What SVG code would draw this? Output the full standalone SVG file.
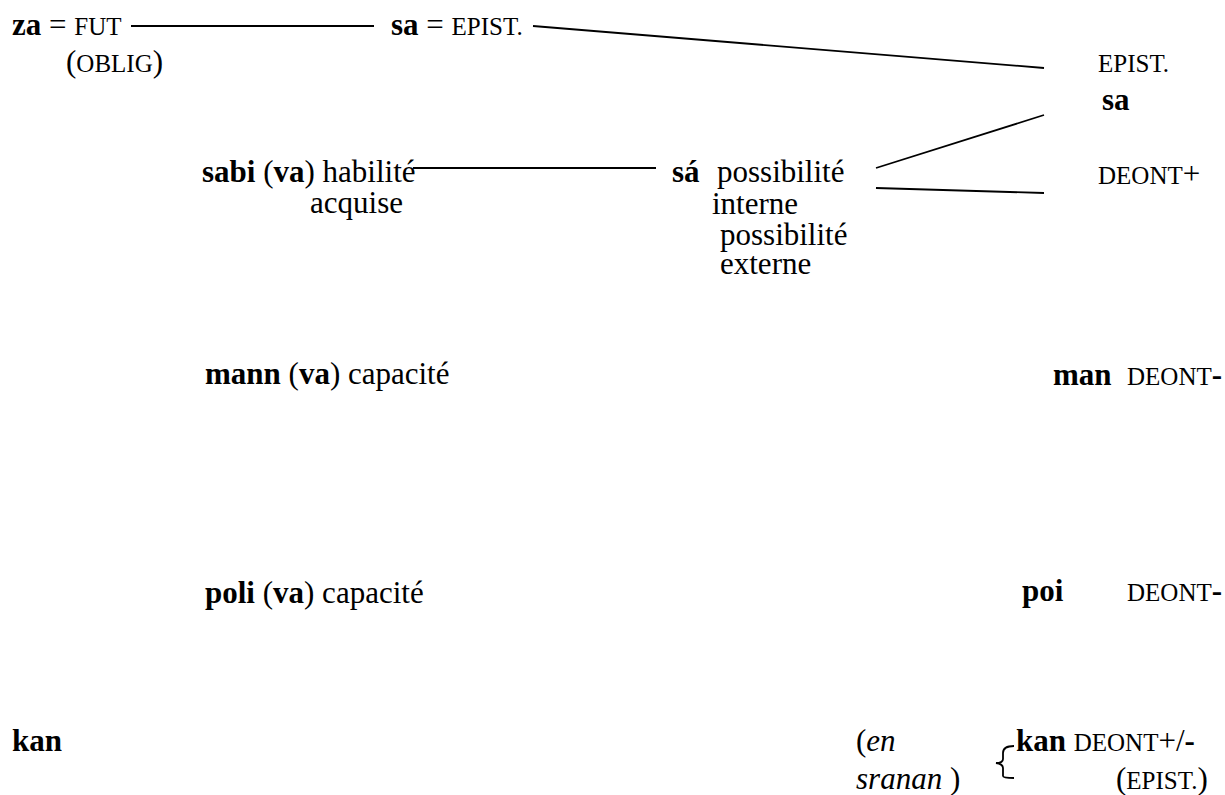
<svg xmlns="http://www.w3.org/2000/svg" width="1225" height="795" viewBox="0 0 1225 795">
<style>
text{font-family:"Liberation Serif","Times New Roman",serif;font-size:31px;fill:#000}
.b{font-weight:bold}
.sc{font-size:25px}
.i{font-style:italic}
.ln{stroke:#000;stroke-width:1.8;fill:none}
</style>
<rect width="1225" height="795" fill="#fff"/>
<g id="connectors">
<line class="ln" x1="131" y1="26" x2="374" y2="26"/>
<line class="ln" x1="533" y1="26" x2="1044" y2="68"/>
<line class="ln" x1="413" y1="168" x2="656" y2="168"/>
<line class="ln" x1="876" y1="168" x2="1044" y2="115"/>
<line class="ln" x1="876" y1="188" x2="1044" y2="193"/>
<path class="ln" d="M1014,746 Q1003,746 1003,753 L1003,759 Q1003,763 996,763 Q1003,764 1003,768 L1003,776 Q1003,778 1014,778"/>
</g>
<g id="za">
<text x="12" y="35"><tspan class="b">za</tspan> = <tspan class="sc">FUT</tspan></text>
<text x="66" y="72">(<tspan class="sc">OBLIG</tspan>)</text>
</g>
<g id="sa-epist">
<text x="391" y="35"><tspan class="b">sa</tspan> = <tspan class="sc">EPIST.</tspan></text>
</g>
<g id="sa-right">
<text x="1098" y="72" class="sc">EPIST.</text>
<text x="1102" y="110" class="b">sa</text>
<text x="1098" y="184"><tspan class="sc">DEONT</tspan>+</text>
</g>
<g id="sabi">
<text x="202" y="182"><tspan class="b">sabi</tspan> (<tspan class="b">va</tspan>) habilité</text>
<text x="310" y="213">acquise</text>
</g>
<g id="sa-acc">
<text x="672" y="182"><tspan class="b">sá</tspan><tspan x="717">possibilité</tspan></text>
<text x="712" y="214">interne</text>
<text x="720" y="245">possibilité</text>
<text x="720" y="274">externe</text>
</g>
<g id="mann">
<text x="205" y="384"><tspan class="b">mann</tspan> (<tspan class="b">va</tspan>) capacité</text>
</g>
<g id="man">
<text x="1053" y="385"><tspan class="b">man</tspan><tspan x="1127" class="sc">DEONT</tspan><tspan class="b">-</tspan></text>
</g>
<g id="poli">
<text x="205" y="603"><tspan class="b">poli</tspan> (<tspan class="b">va</tspan>) capacité</text>
</g>
<g id="poi">
<text x="1022" y="601"><tspan class="b">poi</tspan><tspan x="1127" class="sc">DEONT</tspan><tspan class="b">-</tspan></text>
</g>
<g id="kan-left">
<text x="12" y="751" class="b">kan</text>
</g>
<g id="sranan">
<text x="856" y="751">(<tspan class="i">en</tspan></text>
<text x="856" y="789"><tspan class="i">sranan</tspan> )</text>
</g>
<g id="kan-right">
<text x="1016" y="751"><tspan class="b">kan</tspan> <tspan class="sc">DEONT</tspan>+/<tspan class="b">-</tspan></text>
<text x="1116" y="789">(<tspan class="sc">EPIST.</tspan>)</text>
</g>
</svg>
